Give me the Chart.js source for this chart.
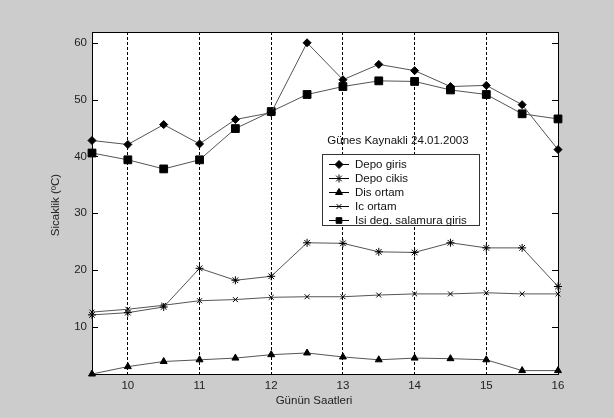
<!DOCTYPE html>
<html>
<head>
<meta charset="utf-8">
<script src="https://cdn.jsdelivr.net/npm/chart.js@4"></script>
<style>
  html, body { margin: 0; padding: 0; background: #cccccc; }
  #wrap { width: 614px; height: 418px; }
</style>
</head>
<body>
<div id="wrap"><canvas id="tempChart" width="614" height="418"></canvas></div>
<script>
// hours of the day (x) and measured temperatures (y)
const hours = [9.5, 10, 10.5, 11, 11.5, 12, 12.5, 13, 13.5, 14, 14.5, 15, 15.5, 16];

const depoGiris = [42.8, 42.1, 45.6, 42.2, 46.5, 47.7, 60.0, 53.5, 56.2, 55.1, 52.3, 52.5, 49.1, 41.2];
const depoCikis = [12.1, 12.5, 13.5, 20.3, 18.2, 18.9, 24.8, 24.7, 23.2, 23.1, 24.8, 23.9, 23.9, 17.1];
const disOrtam  = [1.7, 3.0, 3.9, 4.2, 4.5, 5.1, 5.4, 4.7, 4.2, 4.5, 4.4, 4.2, 2.3, 2.3];
const icOrtam   = [12.6, 13.1, 13.8, 14.6, 14.8, 15.2, 15.3, 15.3, 15.6, 15.8, 15.8, 16.0, 15.8, 15.8];
const isiDeg    = [40.6, 39.4, 37.8, 39.4, 44.9, 47.9, 50.9, 52.3, 53.3, 53.2, 51.7, 50.9, 47.5, 46.6];

const xTicks = [10, 11, 12, 13, 14, 15, 16];
const yTicks = [10, 20, 30, 40, 50, 60];

const legendTitle = 'Günes Kaynakli 24.01.2003';
const xTitle = 'Günün Saatleri';
const yTitle = 'Sicaklik (ºC)';

const FONT = "'Liberation Sans', Arial, sans-serif";

function series(label, values, style, radius) {
  return {
    label: label,
    data: values.map((v, i) => ({ x: hours[i], y: v })),
    borderColor: '#555555',
    borderWidth: 1,
    tension: 0,
    pointStyle: style,
    pointRadius: radius,
    pointBackgroundColor: '#000000',
    pointBorderColor: '#000000',
    pointBorderWidth: 1,
    clip: false
  };
}

// background, frame, inward ticks, legend and axis titles
const matlabLook = {
  id: 'matlabLook',
  beforeDraw(chart) {
    const { ctx, chartArea: a } = chart;
    ctx.save();
    ctx.fillStyle = '#cccccc';
    ctx.fillRect(0, 0, chart.width, chart.height);
    ctx.fillStyle = '#ffffff';
    ctx.fillRect(a.left, a.top, a.right - a.left, a.bottom - a.top);
    ctx.restore();
  },
  afterDatasetsDraw(chart) {
    const { ctx, chartArea: a, scales } = chart;
    ctx.save();

    // frame
    ctx.strokeStyle = '#000';
    ctx.lineWidth = 1;
    ctx.strokeRect(Math.round(a.left) + 0.5, Math.round(a.top) + 0.5,
      Math.round(a.right - a.left), Math.round(a.bottom - a.top));

    // inward y ticks both sides
    ctx.beginPath();
    yTicks.forEach(v => {
      const y = Math.round(scales.y.getPixelForValue(v)) + 0.5;
      ctx.moveTo(a.left, y); ctx.lineTo(a.left + 6, y);
      ctx.moveTo(a.right, y); ctx.lineTo(a.right - 6, y);
    });
    ctx.stroke();

    // legend title
    ctx.fillStyle = '#111';
    ctx.font = '11.5px ' + FONT;
    ctx.textAlign = 'center';
    ctx.textBaseline = 'middle';
    ctx.fillText(legendTitle, 398, 141);

    // legend box
    const bx = 322.5, by = 154.5, bw = 157, bh = 71;
    ctx.fillStyle = '#fff';
    ctx.fillRect(bx, by, bw, bh);
    ctx.strokeStyle = '#333';
    ctx.strokeRect(bx, by, bw, bh);
    chart.data.datasets.forEach((ds, i) => {
      const y = 164 + i * 14;
      ctx.strokeStyle = '#000';
      ctx.beginPath();
      ctx.moveTo(329, y + 0.5); ctx.lineTo(349, y + 0.5);
      ctx.stroke();
      ctx.fillStyle = '#000';
      Chart.helpers.drawPoint(ctx, {
        pointStyle: ds.pointStyle,
        radius: Math.min(ds.pointRadius, 4),
        rotation: 0,
        borderWidth: 1
      }, 339, y + 0.5);
      ctx.fillStyle = '#111';
      ctx.textAlign = 'left';
      ctx.fillText(ds.label, 355, y + 1);
    });

    // axis titles
    ctx.fillStyle = '#222';
    ctx.textAlign = 'center';
    ctx.fillText(xTitle, 314, 401);
    ctx.translate(56, 205);
    ctx.rotate(-Math.PI / 2);
    ctx.fillText(yTitle, 0, 0);

    ctx.restore();
  }
};

new Chart(document.getElementById('tempChart'), {
  type: 'line',
  data: {
    datasets: [
      series('Depo giris', depoGiris, 'rectRot', 4),
      series('Depo cikis', depoCikis, 'star', 4),
      series('Dis ortam', disOrtam, 'triangle', 4),
      series('Ic ortam', icOrtam, 'crossRot', 3.5),
      series('Isi deg. salamura giris', isiDeg, 'rect', 5.5)
    ]
  },
  options: {
    responsive: false,
    animation: false,
    layout: { padding: { left: 0, top: 32, right: 56, bottom: 0 } },
    plugins: { legend: { display: false }, tooltip: { enabled: false } },
    scales: {
      x: {
        type: 'linear',
        min: 9.5,
        max: 16,
        afterBuildTicks: s => { s.ticks = xTicks.map(v => ({ value: v })); },
        afterFit: s => { s.height = 44; },
        grid: { color: '#000', lineWidth: 1, drawTicks: false },
        border: { display: false, dash: [3, 2] },
        ticks: {
          color: '#222',
          padding: 5,
          maxRotation: 0,
          font: { family: FONT, size: 11.5 }
        }
      },
      y: {
        type: 'linear',
        min: 1.7,
        max: 61.9,
        afterBuildTicks: s => { s.ticks = yTicks.map(v => ({ value: v })); },
        afterFit: s => { s.width = 92; },
        grid: { display: false, drawTicks: false },
        border: { display: false },
        ticks: {
          color: '#222',
          padding: 5,
          font: { family: FONT, size: 11.5 }
        }
      }
    }
  },
  plugins: [matlabLook]
});
</script>
</body>
</html>
